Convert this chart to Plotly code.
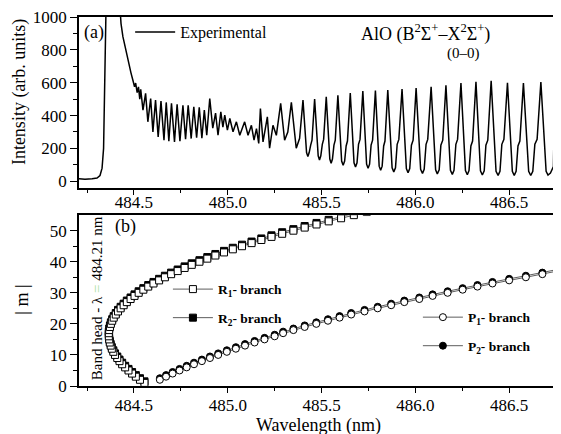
import plotly.graph_objects as go

# ---------------- data ----------------
# (a) experimental spectrum: wavelength (nm) and intensity (arb. units)
spec_wl = [484.207, 484.239, 484.277, 484.303, 484.319, 484.330, 484.338, 484.343, 484.347, 484.351,
           484.383, 484.423, 484.431, 484.441, 484.452, 484.463, 484.473, 484.484, 484.495, 484.503,
           484.509, 484.517, 484.524, 484.531, 484.536, 484.548, 484.562, 484.574, 484.589, 484.601,
           484.615, 484.629, 484.644, 484.660, 484.672, 484.686, 484.700, 484.716, 484.730, 484.745,
           484.761, 484.775, 484.789, 484.805, 484.819, 484.834, 484.848, 484.862, 484.875, 484.888,
           484.904, 484.920, 484.935, 484.948, 484.963, 484.974, 484.984, 484.998, 485.011, 485.028,
           485.046, 485.064, 485.090, 485.108, 485.126, 485.140, 485.153, 485.165, 485.174, 485.188,
           485.211, 485.223, 485.241, 485.259, 485.282, 485.303, 485.320, 485.339, 485.365, 485.383,
           485.401, 485.420, 485.427, 485.434, 485.442, 485.449,
           485.463, 485.482, 485.489, 485.496, 485.504, 485.511,
           485.525, 485.544, 485.551, 485.558, 485.566, 485.573,
           485.587, 485.607, 485.615, 485.623, 485.631, 485.638,
           485.653, 485.673, 485.681, 485.689, 485.697, 485.705,
           485.720, 485.740, 485.748, 485.756, 485.764, 485.772,
           485.787, 485.807, 485.815, 485.823, 485.831, 485.838,
           485.853, 485.876, 485.885, 485.894, 485.903, 485.912,
           485.929, 485.952, 485.961, 485.970, 485.979, 485.988,
           486.004, 486.028, 486.038, 486.047, 486.057, 486.066,
           486.084, 486.108, 486.117, 486.127, 486.136, 486.146,
           486.163, 486.187, 486.197, 486.206, 486.216, 486.225,
           486.243, 486.267, 486.277, 486.286, 486.296, 486.305,
           486.323, 486.347, 486.357, 486.367, 486.376, 486.386,
           486.404, 486.430, 486.441, 486.451, 486.461, 486.472,
           486.491, 486.517, 486.527, 486.537, 486.547, 486.557,
           486.576, 486.604, 486.615, 486.626, 486.637, 486.649,
           486.669, 486.697, 486.707, 486.720, 486.736, 486.742, 486.748]
spec_int = [15, 12, 15, 20, 35, 80, 200, 450, 800, 1050,
            1800, 1050, 960, 880, 820, 760, 710, 660, 612, 575,
            598, 540, 575, 500, 560, 433, 535, 362, 504, 301,
            494, 270, 488, 250, 480, 244, 474, 240, 468, 244,
            463, 256, 463, 260, 453, 265, 450, 262, 433, 280,
            504, 323, 415, 280, 423, 330, 402, 311, 382, 301,
            362, 280, 362, 280, 341, 250, 321, 230, 443, 240,
            392, 201, 341, 280, 474, 250, 300, 480, 201, 262,
            494, 175, 150, 175, 220, 250,
            500, 155, 130, 155, 225, 255,
            514, 135, 110, 135, 220, 250,
            524, 123, 98, 123, 215, 245,
            537, 112, 87, 112, 225, 255,
            549, 104, 79, 104, 220, 250,
            552, 92, 67, 92, 215, 245,
            555, 82, 57, 82, 225, 255,
            561, 77, 52, 77, 220, 250,
            567, 73, 48, 73, 225, 255,
            575, 70, 45, 70, 220, 250,
            585, 67, 42, 67, 225, 255,
            598, 65, 40, 65, 215, 245,
            605, 63, 38, 63, 220, 250,
            612, 61, 36, 61, 225, 255,
            600, 60, 35, 60, 215, 245,
            598, 60, 35, 60, 225, 255,
            604, 60, 38, 50, 90, 500, 1200]

# (b) Fortrat diagram: |m| and line wavelengths
m_R1 = [1, 2, 3, 4, 5, 6, 7, 8, 9, 10, 11, 12, 13, 14, 15, 16, 17, 18, 19, 20,
        21, 22, 23, 24, 25, 26, 27, 28, 29, 30, 31, 32, 33, 34, 35, 36, 37, 38, 39, 40,
        41, 42, 43, 44, 45, 46, 47, 48, 49, 50, 51, 52, 53, 54, 55, 56]
m_R2 = [1.5, 2.5, 3.5, 4.5, 5.5, 6.5, 7.5, 8.5, 9.5, 10.5, 11.5, 12.5, 13.5, 14.5, 15.5, 16.5,
        17.5, 18.5, 19.5, 20.5, 21.5, 22.5, 23.5, 24.5, 25.5, 26.5, 27.5, 28.5, 29.5, 30.5,
        31.5, 32.5, 33.5, 34.5, 35.5, 36.5, 37.5, 38.5, 39.5, 40.5, 41.5, 42.5, 43.5, 44.5,
        45.5, 46.5, 47.5, 48.5, 49.5, 50.5, 51.5, 52.5, 53.5, 54.5, 55.5, 56.5]
wl_R = [484.556, 484.532, 484.510, 484.490, 484.471, 484.453, 484.437, 484.423, 484.411, 484.399,
        484.390, 484.382, 484.376, 484.371, 484.368, 484.366, 484.366, 484.368, 484.372, 484.377,
        484.384, 484.392, 484.403, 484.415, 484.429, 484.445, 484.462, 484.482, 484.503, 484.525,
        484.550, 484.576, 484.604, 484.634, 484.665, 484.698, 484.733, 484.770, 484.808, 484.849,
        484.891, 484.934, 484.980, 485.027, 485.076, 485.127, 485.179, 485.233, 485.290, 485.350,
        485.410, 485.473, 485.538, 485.604, 485.672, 485.741]

m_P1 = [2, 3, 4, 5, 6, 7, 8, 9, 10, 11, 12, 13, 14, 15, 16, 17, 18, 19, 20,
        21, 22, 23, 24, 25, 26, 27, 28, 29, 30, 31, 32, 33, 34, 35, 36, 37]
m_P2 = [2.5, 3.5, 4.5, 5.5, 6.5, 7.5, 8.5, 9.5, 10.5, 11.5, 12.5, 13.5, 14.5, 15.5, 16.5,
        17.5, 18.5, 19.5, 20.5, 21.5, 22.5, 23.5, 24.5, 25.5, 26.5, 27.5, 28.5, 29.5, 30.5,
        31.5, 32.5, 33.5, 34.5, 35.5, 36.5, 37.5]
wl_P = [484.638, 484.671, 484.706, 484.743, 484.781, 484.820, 484.862, 484.905, 484.949, 484.995,
        485.043, 485.092, 485.143, 485.196, 485.250, 485.295, 485.350, 485.410, 485.472, 485.534,
        485.596, 485.658, 485.729, 485.799, 485.871, 485.941, 486.021, 486.092, 486.172, 486.252,
        486.331, 486.411, 486.500, 486.589, 486.677, 486.757]

x_ticks = [484.5, 485.0, 485.5, 486.0, 486.5]
x_minor = [484.25, 484.75, 485.25, 485.75, 486.25, 486.75]
y1_ticks = [0, 200, 400, 600, 800, 1000]
y1_minor = [100, 300, 500, 700, 900]
y2_ticks = [0, 10, 20, 30, 40, 50]
y2_minor = [5, 15, 25, 35, 45]

# ---------------- figure ----------------
FONT = "Liberation Serif, Times New Roman, serif"
fig = go.Figure()

fig.add_trace(go.Scatter(x=spec_wl, y=spec_int, mode="lines", name="Experimental",
                         line=dict(color="black", width=1.5), xaxis="x", yaxis="y",
                         legend="legend"))

lnk = dict(color="#333333", width=0.8)
fig.add_trace(go.Scatter(x=wl_R, y=m_R2, mode="lines+markers", name="<b>R<sub>2</sub>- branch</b>",
                         line=lnk, marker=dict(symbol="square", size=7, color="black",
                                               line=dict(color="black", width=1)),
                         xaxis="x2", yaxis="y2", legend="legend2", legendrank=2,
                         legendgroup="r2"))
fig.add_trace(go.Scatter(x=wl_R, y=m_R1, mode="lines+markers", name="<b>R<sub>1</sub>- branch</b>",
                         line=lnk, marker=dict(symbol="square", size=7, color="white",
                                               line=dict(color="black", width=1)),
                         xaxis="x2", yaxis="y2", legend="legend2", legendrank=1,
                         legendgroup="r1"))
fig.add_trace(go.Scatter(x=wl_P, y=m_P2, mode="lines+markers", name="<b>P<sub>2</sub>- branch</b>",
                         line=lnk, marker=dict(symbol="circle", size=7, color="black",
                                               line=dict(color="black", width=1)),
                         xaxis="x2", yaxis="y2", legend="legend3", legendrank=2,
                         legendgroup="p2"))
fig.add_trace(go.Scatter(x=wl_P, y=m_P1, mode="lines+markers", name="<b>P<sub>1</sub>- branch</b>",
                         line=lnk, marker=dict(symbol="circle", size=7, color="white",
                                               line=dict(color="black", width=1)),
                         xaxis="x2", yaxis="y2", legend="legend3", legendrank=1,
                         legendgroup="p1"))

TICKFONT = dict(family=FONT, size=17, color="black")


def xaxis_style(standoff):
    return dict(range=[484.207, 486.755], tickvals=x_ticks,
                ticktext=[f"{v:.1f}" for v in x_ticks],
                ticks="outside", ticklen=5, tickwidth=1, tickcolor="black",
                ticklabelstandoff=standoff,
                minor=dict(tickvals=x_minor, ticks="outside", ticklen=3, tickcolor="black"),
                showline=True, linecolor="black", linewidth=1.5, mirror=True, automargin=False,
                showgrid=False, zeroline=False, tickfont=TICKFONT)


def yaxis_style(rng, tv, mv):
    return dict(range=rng, tickvals=tv, ticks="outside", ticklen=7, tickcolor="black",
                automargin=False, ticklabeloverflow="allow",
                minor=dict(tickvals=mv, ticks="outside", ticklen=4, tickcolor="black"),
                showline=True, linecolor="black", linewidth=1.5, mirror=True,
                showgrid=False, zeroline=False, tickfont=TICKFONT)


fig.update_layout(
    template="none",
    width=553, height=426, autosize=False,
    margin=dict(l=71, r=4, t=9, b=48, pad=0),
    paper_bgcolor="white", plot_bgcolor="white",
    font=dict(family=FONT, color="black"),
    showlegend=True,
    xaxis=dict(domain=[0, 1], anchor="y", **xaxis_style(-7)),
    xaxis2=dict(domain=[0, 1], anchor="y2", **xaxis_style(-2)),
    yaxis=dict(domain=[0.537, 1], anchor="x", **yaxis_style([-40, 1000], y1_ticks, y1_minor)),
    yaxis2=dict(domain=[0, 0.463], anchor="x2", **yaxis_style([0, 55], y2_ticks, y2_minor)),
    legend=dict(x=0.107, y=1.005, xanchor="left", yanchor="top", bgcolor="rgba(0,0,0,0)",
                itemwidth=40, font=dict(family=FONT, size=16, color="black")),
    legend2=dict(x=0.186, y=0.304, xanchor="left", yanchor="top", bgcolor="rgba(0,0,0,0)",
                 itemwidth=40, tracegroupgap=8, font=dict(family=FONT, size=13.5, color="black")),
    legend3=dict(x=0.709, y=0.228, xanchor="left", yanchor="top", bgcolor="rgba(0,0,0,0)",
                 itemwidth=40, tracegroupgap=8, font=dict(family=FONT, size=13.5, color="black")),
)

ann = [
    dict(text="(a)", x=0.006, y=0.959, xanchor="left", yanchor="middle", font=dict(size=18)),
    dict(text="(b)", x=0.071, y=0.432, xanchor="left", yanchor="middle", font=dict(size=18)),
    dict(text="AlO (B<sup>2</sup>Σ<sup>+</sup>–X<sup>2</sup>Σ<sup>+</sup>)", x=0.724, y=0.957,
         xanchor="center", yanchor="middle", font=dict(size=18)),
    dict(text="(0–0)", x=0.805, y=0.902, xanchor="center", yanchor="middle", font=dict(size=15)),
    dict(text='Band head - λ <span style="color:#a8e0a0">=</span> 484.21 nm', x=0.0377, y=0.238,
         xanchor="center", yanchor="middle", textangle=-90, font=dict(size=15)),
    dict(text="Intensity (arb. units)", x=-0.123, y=0.797, xanchor="center", yanchor="middle",
         textangle=-90, font=dict(size=18)),
    dict(text="| m |", x=-0.12, y=0.233, xanchor="center", yanchor="middle",
         textangle=-90, font=dict(size=18)),
    dict(text="Wavelength (nm)", x=0.5, y=-0.108, xanchor="center", yanchor="middle",
         font=dict(size=18)),
]
for a in ann:
    a.update(xref="paper", yref="paper", showarrow=False)
    a["font"].update(family=FONT, color="black")
fig.update_layout(annotations=ann)

fig.write_html("out.html")
